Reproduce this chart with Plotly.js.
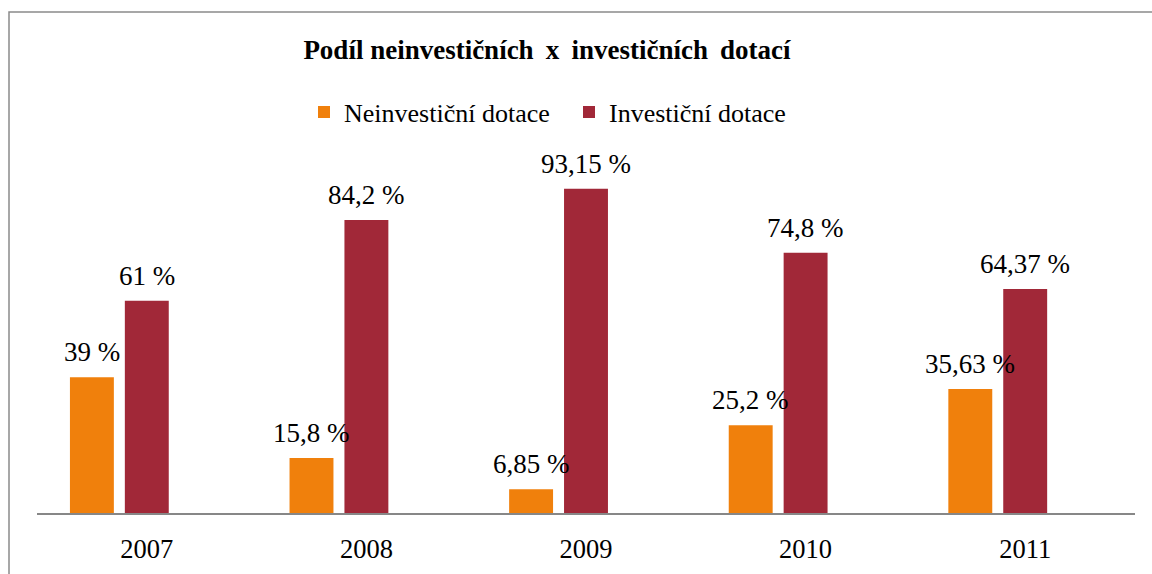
<!DOCTYPE html>
<html>
<head>
<meta charset="utf-8">
<script src="https://cdn.plot.ly/plotly-3.0.1.min.js"></script>
<style>html,body{margin:0;padding:0;background:#fff;}#chart{width:1152px;height:574px;}</style>
</head>
<body>
<div id="chart"></div>
<script>
const years = ['2007', '2008', '2009', '2010', '2011'];
const seriesNames = ['Neinvestiční dotace', 'Investiční dotace'];
const neinvesticni = [39, 15.8, 6.85, 25.2, 35.63];
const investicni = [61, 84.2, 93.15, 74.8, 64.37];
const colors = ['#F0800C', '#A12838'];

const serif = 'Liberation Serif';
const fmt = v => String(v).replace('.', ',') + ' %';

// bar placement inside each category (category units)
const barWidth = 0.2;
const barOffsets = [-0.35, -0.1];

const traces = [neinvesticni, investicni].map((vals, i) => ({
  type: 'bar', x: years, y: vals, name: seriesNames[i],
  width: barWidth, offset: barOffsets[i],
  marker: {color: colors[i]}, hoverinfo: 'none'
}));

const W = 1152, ml = 37, mr = 17;
const annotations = [];
[neinvesticni, investicni].forEach((vals, i) => {
  vals.forEach((v, j) => {
    annotations.push({
      x: j + barOffsets[i] + barWidth / 2, y: v, xref: 'x', yref: 'y', text: fmt(v), showarrow: false,
      xanchor: 'center', yanchor: 'bottom', yshift: 8,
      font: {family: serif, size: 27, color: '#000'}
    });
  });
});

const layout = {
  width: 1152, height: 574,
  margin: {l: ml, r: mr, t: 165, b: 61},
  paper_bgcolor: '#fff', plot_bgcolor: '#fff',
  barmode: 'group',
  title: {
    text: 'Podíl neinvestičních\u2009 x\u2009 investičních\u2009 dotací',
    font: {family: serif, size: 27, color: '#000', weight: 'bold'},
    xref: 'container', yref: 'container', x: 547 / 1152, xanchor: 'center',
    y: 1 - 50 / 574, yanchor: 'middle'
  },
  showlegend: true,
  legend: {
    orientation: 'h', xref: 'container', yref: 'container',
    x: 304 / 1152, xanchor: 'left', y: 1 - 112 / 574, yanchor: 'middle',
    font: {family: serif, size: 26, color: '#000'},
    entrywidth: 220, itemclick: false
  },
  xaxis: {
    type: 'category', range: [-0.5, years.length - 0.5], autorange: false,
    showline: true, linecolor: '#878787', linewidth: 2,
    ticks: '', showgrid: false, zeroline: false,
    tickfont: {family: serif, size: 26.5, color: '#000'},
    ticklabelstandoff: 11
  },
  yaxis: {
    range: [0, 100], autorange: false, showgrid: false, zeroline: false, showticklabels: false,
    showline: false, ticks: ''
  },
  shapes: [{
    type: 'rect', xref: 'paper', yref: 'paper',
    x0: (9 - ml) / (W - ml - mr), x1: 1.2,
    y0: -0.5, y1: (513 - 12) / 348,
    line: {color: '#8a8a8a', width: 1.5}, fillcolor: 'rgba(0,0,0,0)', layer: 'below'
  }],
  annotations: annotations
};

Plotly.newPlot('chart', traces, layout, {displayModeBar: false, staticPlot: true});
</script>
</body>
</html>
